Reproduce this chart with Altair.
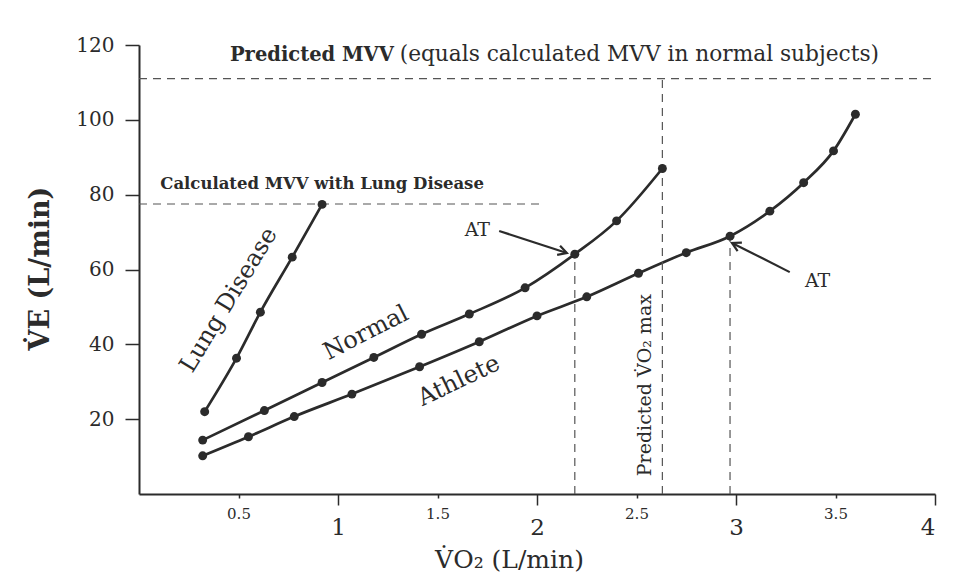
import math
import altair as alt
import pandas as pd

FONT = "DejaVu Serif"
INK = "#2b2b2b"
GUIDE = "#555555"

# ---------------- data ----------------
series_names = ["Lung Disease", "Normal", "Athlete"]
lung_x = [0.33, 0.49, 0.61, 0.77, 0.92]
lung_y = [22.0, 36.3, 48.6, 63.3, 77.4]
normal_x = [0.32, 0.63, 0.92, 1.18, 1.42, 1.66, 1.94, 2.19, 2.40, 2.63]
normal_y = [14.4, 22.3, 29.8, 36.5, 42.7, 48.1, 55.1, 64.1, 73.0, 87.0]
athlete_x = [0.32, 0.55, 0.78, 1.07, 1.41, 1.71, 2.00, 2.25, 2.51, 2.75,
             2.97, 3.17, 3.34, 3.49, 3.60]
athlete_y = [10.2, 15.3, 20.7, 26.7, 34.0, 40.7, 47.6, 52.7, 59.0, 64.5,
             68.9, 75.6, 83.2, 91.7, 101.5]

x_ticks = [0.5, 1, 1.5, 2, 2.5, 3, 3.5, 4]
y_ticks = [20, 40, 60, 80, 100, 120]

predicted_mvv = 111
lung_mvv = 77.5
vo2max_pred = 2.63
at_normal = (2.19, 64.1)
at_athlete = (2.97, 68.9)

# dashed guide segments: (x, x2, y, y2)
guide_x1 = [0.0, 0.0, vo2max_pred, at_normal[0], at_athlete[0]]
guide_x2 = [4.0, 2.02, vo2max_pred, at_normal[0], at_athlete[0]]
guide_y1 = [predicted_mvv, lung_mvv, 0, 0, 0]
guide_y2 = [predicted_mvv, lung_mvv, predicted_mvv, at_normal[1], at_athlete[1]]

# arrows (start -> tip)
arrow_x1 = [1.81, 3.27]
arrow_y1 = [70.3, 59.3]
arrow_x2 = [2.15, 2.98]
arrow_y2 = [64.4, 67.1]

# text annotations
title_bold = "Predicted MVV"
title_rest = "(equals calculated MVV in normal subjects)"
lung_mvv_label = "Calculated MVV with Lung Disease"
curve_labels = ["Lung Disease", "Normal", "Athlete"]
curve_label_x = [0.452, 1.141, 1.608]
curve_label_y = [51.8, 43.0, 30.2]
curve_label_angle = [301.3, 333.0, 334.5]
at_labels = ["AT", "AT"]
at_label_x = [1.70, 3.41]
at_label_y = [70.5, 56.9]
vo2_label = "Predicted V\u0307O\u2082 max"

# ---------------- layout ----------------
W, H = 796, 449
XMAX, YMAX = 4.0, 120.0

xs = alt.Scale(domain=[0, XMAX], nice=False, zero=False)
ys = alt.Scale(domain=[0, YMAX], nice=False, zero=False)

rows = []
for name, X_, Y_ in zip(series_names, [lung_x, normal_x, athlete_x], [lung_y, normal_y, athlete_y]):
    for a, b in zip(X_, Y_):
        rows.append({"series": name, "x": a, "y": b})
curves = pd.DataFrame(rows)

guides = pd.DataFrame({"x": guide_x1, "x2": guide_x2, "y": guide_y1, "y2": guide_y2})
arrows = pd.DataFrame({"x": arrow_x1, "y": arrow_y1, "x2": arrow_x2, "y2": arrow_y2})
heads = arrows.copy()
angles = []
for a1, b1, a2, b2 in zip(arrow_x1, arrow_y1, arrow_x2, arrow_y2):
    dx = (a2 - a1) * W / XMAX
    dy = -(b2 - b1) * H / YMAX
    angles.append(math.degrees(math.atan2(dx, -dy)) % 360)
heads["angle"] = angles

x_axis = alt.Axis(
    values=x_ticks,
    labelExpr="'' + datum.value",
    title="V\u0307O\u2082 (L/min)",
    titleFont=FONT, titleFontSize=25, titleFontWeight="normal", titleColor=INK,
    titleX=370, titleY=73, titleBaseline="alphabetic", titleAlign="center",
    labelFont=FONT, labelColor=INK,
    labelFontSize={"condition": {"test": "datum.value % 1 === 0", "value": 23}, "value": 15},
    labelPadding={"condition": {"test": "datum.value % 1 === 0", "value": 11}, "value": 8},
    tickSize={"condition": {"test": "datum.value % 1 === 0", "value": 11}, "value": 4},
    tickColor=INK, tickWidth=1.5,
    domainColor=INK, domainWidth=2, grid=False,
)
y_axis = alt.Axis(
    values=y_ticks,
    title="V\u0307E (L/min)",
    titleFont=FONT, titleFontSize=27, titleFontWeight="bold", titleColor=INK,
    titleAngle=270, titleX=-99, titleY=223, titleAlign="center", titleBaseline="middle",
    labelFont=FONT, labelFontSize=20, labelColor=INK, labelPadding=11,
    tickSize=14, tickColor=INK, tickWidth=1.5,
    domainColor=INK, domainWidth=2, grid=False,
)


def X(field="x"):
    return alt.X(f"{field}:Q", scale=xs, axis=x_axis)


def Y(field="y"):
    return alt.Y(f"{field}:Q", scale=ys, axis=y_axis)


guide_layer = alt.Chart(guides).mark_rule(color=GUIDE, strokeDash=[8, 6], strokeWidth=1.2).encode(
    x=X(), x2="x2:Q", y=Y(), y2="y2:Q",
)

line_layer = alt.Chart(curves).mark_line(color=INK, strokeWidth=2.7, interpolate="monotone").encode(
    x=X(), y=Y(), detail="series:N",
)
point_layer = alt.Chart(curves).mark_point(filled=True, color=INK, size=80, opacity=1).encode(
    x=X(), y=Y(),
)

arrow_layer = alt.Chart(arrows).mark_rule(color=INK, strokeWidth=2.2).encode(
    x=X(), x2="x2:Q", y=Y(), y2="y2:Q",
)
head_layer = alt.Chart(heads).mark_point(
    shape="M -0.55 1 L 0 0 L 0.55 1", filled=False, color=INK, strokeWidth=2.2, size=300, opacity=1
).encode(
    x=X("x2"), y=Y("y2"),
    angle=alt.Angle("angle:Q", scale=None),
)


def text_layer(df, angled=False, **kw):
    enc = dict(x=X(), y=Y(), text="text:N")
    if angled:
        enc["angle"] = alt.Angle("angle:Q", scale=None)
    return alt.Chart(df).mark_text(font=FONT, color=INK, **kw).encode(**enc)


t_title_b = text_layer(pd.DataFrame({"x": [0.457], "y": [115.7], "text": [title_bold]}),
                       fontSize=19.5, fontWeight="bold", align="left", baseline="alphabetic")
t_title_r = text_layer(pd.DataFrame({"x": [1.31], "y": [115.7], "text": [title_rest]}),
                       fontSize=21.7, align="left", baseline="alphabetic")
t_lung_mvv = text_layer(pd.DataFrame({"x": [0.92], "y": [81.5], "text": [lung_mvv_label]}),
                        fontSize=16.5, fontWeight="bold", align="center", baseline="alphabetic")
t_curves = text_layer(pd.DataFrame({"x": curve_label_x, "y": curve_label_y,
                                    "text": curve_labels, "angle": curve_label_angle}),
                      angled=True, fontSize=24, align="center", baseline="middle")
t_at = text_layer(pd.DataFrame({"x": at_label_x, "y": at_label_y, "text": at_labels}),
                  fontSize=19, align="center", baseline="middle")
t_vo2 = text_layer(pd.DataFrame({"x": [2.543], "y": [29.1], "text": [vo2_label], "angle": [270]}),
                   angled=True, fontSize=19, align="center", baseline="middle")

chart = alt.layer(
    line_layer, guide_layer, point_layer, arrow_layer, head_layer,
    t_title_b, t_title_r, t_lung_mvv, t_curves, t_at, t_vo2,
).properties(
    width=W, height=H,
    autosize=alt.AutoSizeParams(type="none"),
    padding={"left": 131, "top": 37, "right": 13, "bottom": 82},
    background="white",
).configure_view(stroke=None)

chart.save("out.html", embed_options={"renderer": "svg", "actions": False})
